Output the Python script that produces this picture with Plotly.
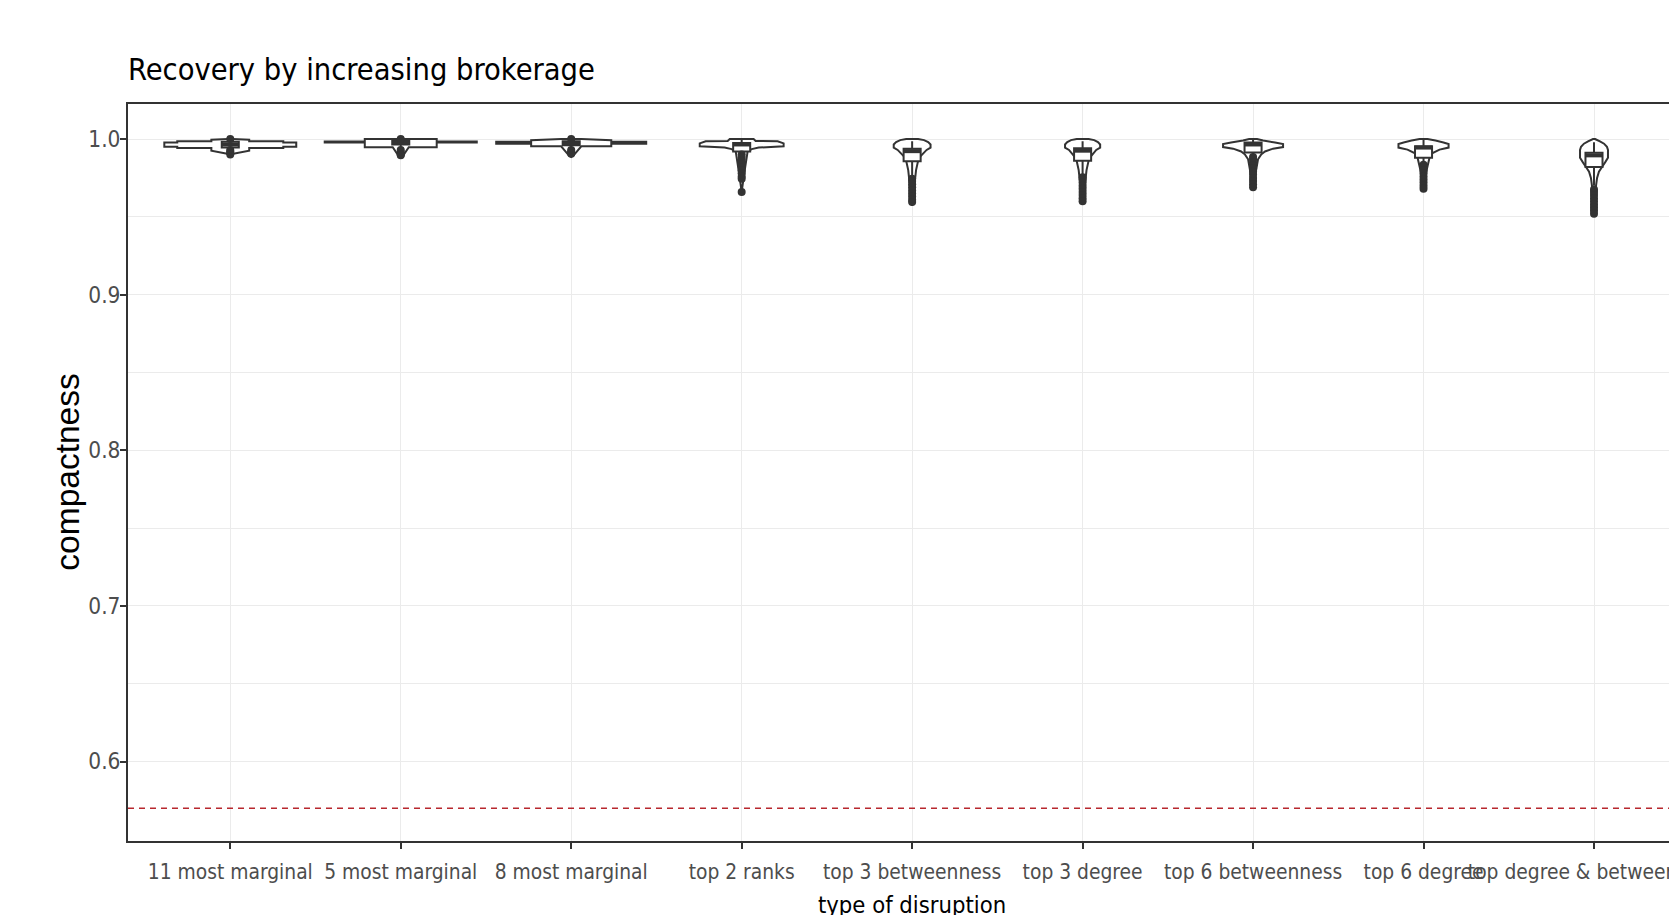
import plotly.graph_objects as go

categories = ["11 most marginal", "5 most marginal", "8 most marginal", "top 2 ranks",
              "top 3 betweenness", "top 3 degree", "top 6 betweenness", "top 6 degree",
              "top degree & betweenness"]

# violin outlines: compactness levels (top to bottom) and half-width at each level (category units)
violin_levels = [
    [1.0000, 0.9995, 0.9985, 0.9985, 0.9977, 0.9977, 0.9951, 0.9951, 0.9943, 0.9943, 0.9925, 0.9905, 0.9900],
    [1.0000, 0.9984, 0.9984, 0.9978, 0.9978, 0.9947, 0.9947, 0.9900, 0.9880],
    [1.0000, 0.9992, 0.9982, 0.9982, 0.9970, 0.9970, 0.9953, 0.9953, 0.9900, 0.9885],
    [1.0000, 0.9988, 0.9985, 0.9972, 0.9953, 0.9945, 0.9935, 0.9920, 0.9800, 0.9660],
    [1.0000, 0.9993, 0.9980, 0.9965, 0.9945, 0.9930, 0.9890, 0.9860, 0.9800, 0.9750, 0.9570],
    [1.0000, 0.9993, 0.9980, 0.9965, 0.9945, 0.9930, 0.9890, 0.9860, 0.9800, 0.9750, 0.9580],
    [1.0000, 0.9990, 0.9978, 0.9968, 0.9948, 0.9938, 0.9920, 0.9900, 0.9870, 0.9800, 0.9690],
    [1.0000, 0.9990, 0.9978, 0.9968, 0.9945, 0.9932, 0.9910, 0.9880, 0.9800, 0.9675],
    [1.0000, 0.9985, 0.9970, 0.9950, 0.9930, 0.9880, 0.9850, 0.9820, 0.9790, 0.9750, 0.9700, 0.9520],
]
violin_halfwidth = [
    [0.012, 0.111, 0.111, 0.311, 0.311, 0.387, 0.387, 0.311, 0.311, 0.111, 0.111, 0.018, 0.0],
    [0.211, 0.211, 0.446, 0.446, 0.211, 0.211, 0.047, 0.018, 0.0],
    [0.059, 0.235, 0.235, 0.440, 0.440, 0.235, 0.235, 0.059, 0.018, 0.0],
    [0.070, 0.082, 0.211, 0.246, 0.246, 0.100, 0.059, 0.035, 0.018, 0.0],
    [0.035, 0.070, 0.094, 0.108, 0.108, 0.085, 0.050, 0.035, 0.023, 0.018, 0.0],
    [0.035, 0.068, 0.090, 0.103, 0.103, 0.080, 0.050, 0.035, 0.023, 0.018, 0.0],
    [0.023, 0.059, 0.129, 0.176, 0.176, 0.117, 0.070, 0.047, 0.029, 0.018, 0.0],
    [0.023, 0.070, 0.117, 0.147, 0.147, 0.094, 0.053, 0.035, 0.018, 0.0],
    [0.006, 0.035, 0.059, 0.076, 0.082, 0.082, 0.065, 0.047, 0.029, 0.018, 0.012, 0.0],
]

# box plot statistics per disruption type
q1 = [0.9945, 0.9965, 0.9960, 0.9920, 0.9857, 0.9860, 0.9913, 0.9880, 0.9820]
median = [0.9965, 0.9978, 0.9973, 0.9965, 0.9922, 0.9925, 0.9965, 0.9945, 0.9895]
q3 = [0.9982, 0.9990, 0.9985, 0.9975, 0.9938, 0.9940, 0.9977, 0.9953, 0.9912]
whisker_lo = [0.9935, 0.9935, 0.9935, 0.9910, 0.9760, 0.9770, 0.9895, 0.9850, 0.9700]
whisker_hi = [0.9995, 0.9995, 0.9995, 1.0000, 0.9985, 0.9985, 1.0000, 0.9995, 0.9980]

outliers = [
    [1.0, 0.993, 0.992, 0.991, 0.990],
    [1.0, 0.993, 0.9915, 0.990, 0.9895],
    [1.0, 0.993, 0.992, 0.991, 0.9905],
    [0.990, 0.988, 0.986, 0.984, 0.982, 0.980, 0.978, 0.976, 0.9745, 0.966],
    [0.9745, 0.973, 0.971, 0.969, 0.967, 0.965, 0.963, 0.961, 0.9595],
    [0.9755, 0.974, 0.972, 0.970, 0.968, 0.966, 0.964, 0.962, 0.960],
    [0.9885, 0.987, 0.985, 0.983, 0.981, 0.979, 0.977, 0.975, 0.973, 0.971, 0.969],
    [0.9835, 0.982, 0.980, 0.978, 0.976, 0.974, 0.972, 0.970, 0.968],
    [0.9675, 0.966, 0.964, 0.962, 0.960, 0.958, 0.956, 0.954, 0.952],
]

baseline = 0.57

y_ticks = [0.6, 0.7, 0.8, 0.9, 1.0]
y_tick_labels = ["0.6", "0.7", "0.8", "0.9", "1.0"]
y_minor = [0.65, 0.75, 0.85, 0.95]

NARROW = "DejaVu Sans Condensed, Liberation Sans Narrow, Arial Narrow, sans-serif"
REGULAR = "Liberation Sans, Arial, sans-serif"
INK = "#333333"
GRID = "#EBEBEB"
BOX_W = 0.1

positions = list(range(1, len(categories) + 1))

fig = go.Figure()

# violins: closed outlines in data coordinates, drawn between the grid and the traces
for pos, lv, hw in zip(positions, violin_levels, violin_halfwidth):
    xs = [pos + w for w in hw] + [pos - w for w in reversed(hw)]
    ys = list(lv) + list(reversed(lv))
    path = "M " + " L ".join(f"{x:.4f},{y:.5f}" for x, y in zip(xs, ys)) + " Z"
    fig.add_shape(type="path", path=path, xref="x", yref="y", layer="between",
                  fillcolor="white", line=dict(color=INK, width=2))

# box plots from precomputed statistics
fig.add_trace(go.Box(
    x=positions, q1=q1, median=median, q3=q3,
    lowerfence=whisker_lo, upperfence=whisker_hi,
    orientation="v", width=BOX_W, whiskerwidth=0, boxpoints=False,
    fillcolor="white", line=dict(color=INK, width=2),
    showlegend=False, hoverinfo="skip",
))

# thicker median bars
mx, my = [], []
for pos, m in zip(positions, median):
    mx += [pos - BOX_W / 2, pos + BOX_W / 2, None]
    my += [m, m, None]
fig.add_trace(go.Scatter(x=mx, y=my, mode="lines", line=dict(color=INK, width=4),
                         hoverinfo="skip", showlegend=False))

# outlying runs
ox, oy = [], []
for pos, vals in zip(positions, outliers):
    ox += [pos] * len(vals)
    oy += vals
fig.add_trace(go.Scatter(x=ox, y=oy, mode="markers",
                         marker=dict(color=INK, size=8, line=dict(width=0)),
                         hoverinfo="skip", showlegend=False))

fig.add_hline(y=baseline, line=dict(color="#B8282E", width=1.6, dash="6px,5px"))

fig.update_layout(
    width=1669, height=915,
    margin=dict(l=128, r=0, t=104, b=74),
    paper_bgcolor="white", plot_bgcolor="white",
    showlegend=False,
    title=dict(text="Recovery by increasing brokerage", x=0, xref="paper", xanchor="left",
               y=1 - 69 / 915, yref="container", yanchor="middle",
               font=dict(family=NARROW, size=30.5, color="black")),
    annotations=[
        dict(text="type of disruption", x=5.0, xref="x", y=-0.0868, yref="paper",
             xanchor="center", yanchor="middle", showarrow=False,
             font=dict(family=NARROW, size=23.6, color="black")),
        dict(text="compactness", x=-0.0395, xref="paper", y=0.5, yref="paper",
             textangle=-90, xanchor="center", yanchor="middle", showarrow=False,
             font=dict(family=REGULAR, size=33.5, color="black")),
    ],
)

fig.update_xaxes(
    range=[0.4, 9.44], tickmode="array", tickvals=positions, ticktext=categories,
    tickangle=0, ticklabeloverflow="allow", ticklabelstandoff=5,
    showgrid=True, gridcolor=GRID, gridwidth=1.4, zeroline=False,
    showline=True, linecolor=INK, linewidth=2, mirror=True,
    ticks="outside", ticklen=6, tickwidth=1.6, tickcolor=INK,
    tickfont=dict(family=NARROW, size=20.8, color="#4D4D4D"),
    automargin=False,
)
fig.update_yaxes(
    range=[0.549, 1.0225], tickmode="array", tickvals=y_ticks, ticktext=y_tick_labels,
    ticklabelstandoff=-5,
    showgrid=True, gridcolor=GRID, gridwidth=1.4, zeroline=False,
    minor=dict(tickvals=y_minor, showgrid=True, gridcolor=GRID, gridwidth=0.9, ticks=""),
    showline=True, linecolor=INK, linewidth=2,
    ticks="outside", ticklen=6, tickwidth=1.6, tickcolor=INK,
    tickfont=dict(family=NARROW, size=22.5, color="#4D4D4D"),
    automargin=False,
)

fig.write_html("out.html")
